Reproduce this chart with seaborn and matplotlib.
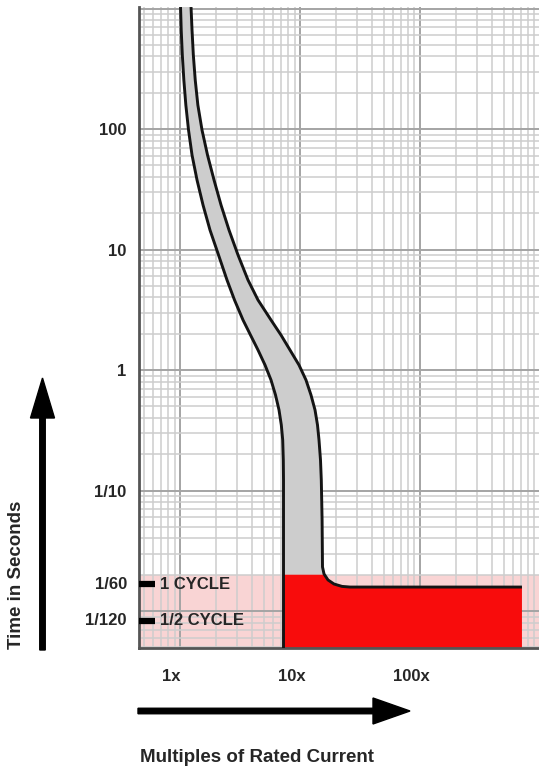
import numpy as np
import pandas as pd
import seaborn as sns
import matplotlib.pyplot as plt
from matplotlib.ticker import LogLocator, NullFormatter
from matplotlib.patches import FancyArrow
from matplotlib.transforms import ScaledTranslation

# time points (seconds)
curve_time = [1029, 663, 411, 255, 158.2, 98.1, 60.8, 37.7, 23.4, 14.5,
              9.0, 5.58, 3.81, 2.60, 1.95, 1.465, 1.10, 0.826, 0.620, 0.466,
              0.350, 0.2625, 0.179, 0.122]

# minimum melt curve (left edge of the band)
melt_current = [1.010, 1.023, 1.045, 1.076, 1.118, 1.177, 1.259, 1.386, 1.555, 1.778,
                2.094, 2.464, 2.845, 3.350, 3.868, 4.467, 5.110, 5.733, 6.250, 6.683,
                6.985, 7.175, 7.258, 7.286, 7.286]
melt_time = curve_time + [0.0049]

# total clearing curve (right edge of the band)
clear_current = [1.235, 1.259, 1.291, 1.339, 1.408, 1.525, 1.695, 1.921, 2.197, 2.561,
                 3.044, 3.687, 4.467, 5.733, 6.945, 8.254, 9.810, 11.22, 12.35, 13.34,
                 13.99, 14.40, 14.82, 15.05, 15.28, 15.40, 15.85, 17.11, 19.20, 22.39,
                 26.10, 708]
clear_time = curve_time + [0.0569, 0.0232, 0.0203, 0.0181, 0.01675, 0.0160, 0.0158, 0.0158]

# current limiting region (red)
limit_current = [7.286, 7.286, 15.9, 17.11, 19.20, 22.39, 26.10, 708, 708]
limit_time = [0.0049, 0.02, 0.02, 0.0181, 0.01675, 0.0160, 0.0158, 0.0158, 0.0049]
sub_cycle_top = 0.02

x_ticks = [1, 10, 100, 1000]
x_ticklabels = ["1x", "10x", "100x", ""]
y_ticks = [0.01, 0.1, 1, 10, 100, 1000]
y_ticklabels = ["", "1/10", "1", "10", "100", ""]
cycle_times = [1 / 60, 1 / 120]
cycle_ticklabels = ["1/60", "1/120"]
cycle_labels = ["1 CYCLE", "1/2 CYCLE"]

sns.set_theme(style="white")
plt.rcParams['font.family'] = ['Liberation Sans', 'DejaVu Sans']
plt.rcParams['font.weight'] = 'bold'

fig = plt.figure(figsize=(5.39, 7.70), dpi=100)
ax = fig.add_axes([139 / 539, 1 - 648 / 770, 400 / 539, 641 / 770])
ax.set_xscale('log')
ax.set_yscale('log')

# grid
ax.set_axisbelow(True)
ax.xaxis.set_minor_locator(LogLocator(base=10, subs=np.arange(2, 10), numticks=20))
ax.yaxis.set_minor_locator(LogLocator(base=10, subs=np.arange(2, 10), numticks=20))
ax.xaxis.set_minor_formatter(NullFormatter())
ax.yaxis.set_minor_formatter(NullFormatter())
ax.set_xticks(x_ticks, labels=x_ticklabels)
ax.set_yticks(y_ticks, labels=y_ticklabels)
ax.set_xlim(0.455, 982)
ax.set_ylim(0.00493, 1030)
ax.grid(which='major', color='#a4a4a4', lw=1.4)
ax.grid(which='minor', color='#cdcdcd', lw=1.1)
ax.tick_params(which='both', length=0)
ax.tick_params(axis='y', pad=9, labelsize=12)
ax.tick_params(axis='x', pad=15, labelsize=12)
for lab in ax.get_xticklabels():
    lab.set_transform(lab.get_transform() + ScaledTranslation(-6 / 72, 0, fig.dpi_scale_trans))

for side in ['top', 'right']:
    ax.spines[side].set_visible(False)
for side in ['left', 'bottom']:
    ax.spines[side].set_color('#555555')
    ax.spines[side].set_linewidth(2)

# pink sub-cycle band
ax.axhspan(0.001, sub_cycle_top, color='#f9d4d4', zorder=0.1, lw=0)

# grey band between curves, red limiting region on top
ax.fill(melt_current + clear_current[::-1], melt_time + clear_time[::-1],
        color='#cdcdcd', lw=0, zorder=2)
ax.fill(limit_current, limit_time, color='#f80c0c', lw=0, zorder=2.5)

melt = pd.DataFrame({'current': melt_current, 'time': melt_time})
clear = pd.DataFrame({'current': clear_current, 'time': clear_time})
for df in [melt, clear]:
    sns.lineplot(data=df, x='current', y='time', sort=False, estimator=None,
                 color='#141414', lw=2.1, ax=ax, zorder=3,
                 solid_joinstyle='round', solid_capstyle='butt')
ax.set_xlabel('')
ax.set_ylabel('')

# cycle markers
ytrans = ax.get_yaxis_transform()
ax.hlines(cycle_times, 0, 0.04, transform=ytrans, color='black', lw=4.5, zorder=4, clip_on=False)
for t, tl, cl in zip(cycle_times, cycle_ticklabels, cycle_labels):
    ax.text(-0.03, t, tl, transform=ytrans, ha='right', va='center', fontsize=12)
    ax.text(0.052, t, cl, transform=ytrans, ha='left', va='center', fontsize=12)

# axis labels and arrows
fig.text(17 / 539, 1 - 575 / 770, 'Time in Seconds', rotation=90, ha='center', va='center', fontsize=13.5)
fig.text(257 / 539, 1 - 758 / 770, 'Multiples of Rated Current', ha='center', va='center', fontsize=13.5)
fig.add_artist(FancyArrow(0.425, 1.20, 0, 2.72, width=0.055, head_width=0.24, head_length=0.40,
                          length_includes_head=True, color='black', transform=fig.dpi_scale_trans))
fig.add_artist(FancyArrow(1.38, 0.59, 2.72, 0, width=0.055, head_width=0.26, head_length=0.37,
                          length_includes_head=True, color='black', transform=fig.dpi_scale_trans))

fig.savefig('out.png', dpi=100)
